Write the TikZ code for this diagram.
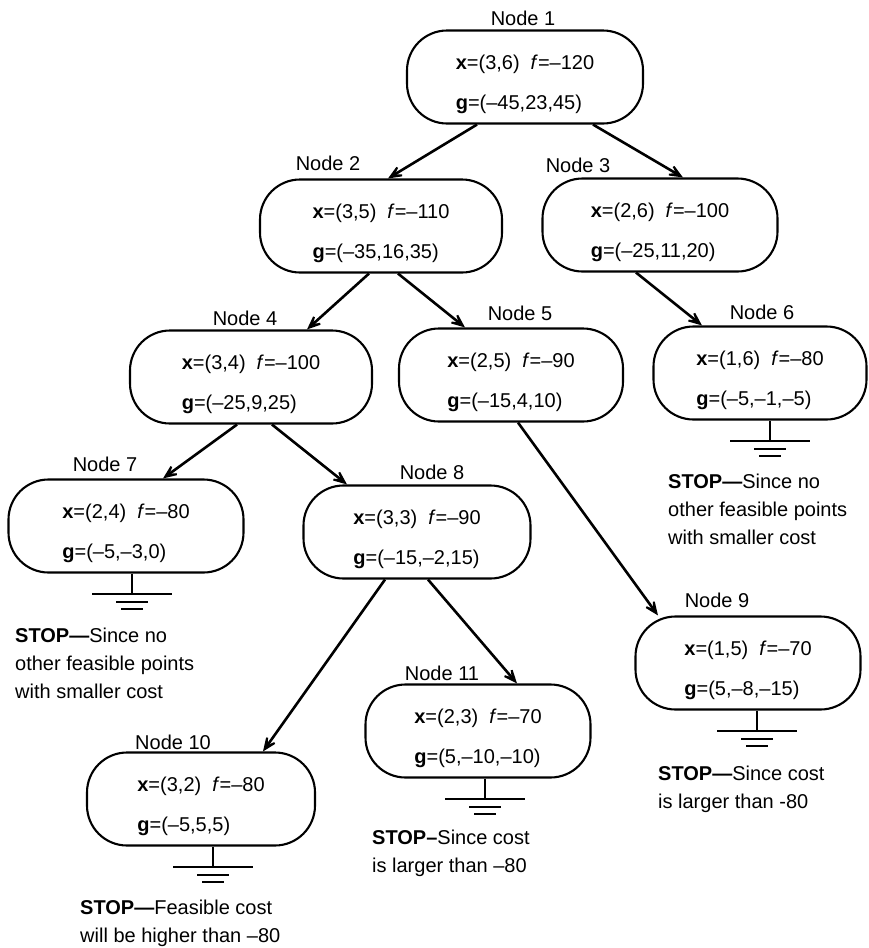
\documentclass[tikz,border=0pt]{standalone}
\usepackage{fontspec}
\setmainfont{Liberation Sans}
\usetikzlibrary{arrows.meta}

% two lines of a search node: point, cost and constraint values
\newcommand{\nodedata}[3]{\rule{0pt}{30pt}\textbf{x}=#1\hspace{0.55em}\textit{f}=#2\\\textbf{g}=#3}

\begin{document}
\begin{tikzpicture}[x=1pt, y=-1pt,
  box/.style={rectangle, rounded corners=40pt, draw, line width=2.1pt,
              minimum height=93pt, align=left, inner sep=0pt,
              font=\fontsize{20}{40}\selectfont},
  tag/.style={font=\fontsize{20}{24}\selectfont},
  stop/.style={anchor=north west, align=left, inner sep=0pt,
               font=\fontsize{20}{28}\selectfont},
  arrow/.style={-{Stealth[length=25pt,width=21pt,inset=17pt]}, line width=2.6pt},
  ground/.pic={
    \draw[line width=2pt] (0,0) -- (0,20) (-40,20) -- (40,20)
      (-16,28) -- (16,28) (-11,35) -- (11,35);
  }
]
\useasboundingbox (0,0) rectangle (868,948);

\node[box, minimum width=236pt] (n1) at (525,77) {\nodedata{(3,6)}{–120}{(–45,23,45)}};
\node[box, minimum width=242pt] (n2) at (381,226) {\nodedata{(3,5)}{–110}{(–35,16,35)}};
\node[box, minimum width=235pt] (n3) at (660,225) {\nodedata{(2,6)}{–100}{(–25,11,20)}};
\node[box, minimum width=242pt] (n4) at (251,377) {\nodedata{(3,4)}{–100}{(–25,9,25)}};
\node[box, minimum width=224pt] (n5) at (511,375) {\nodedata{(2,5)}{–90}{(–15,4,10)}};
\node[box, minimum width=213pt] (n6) at (760,373) {\nodedata{(1,6)}{–80}{(–5,–1,–5)}};
\node[box, minimum width=235pt] (n7) at (126,526) {\nodedata{(2,4)}{–80}{(–5,–3,0)}};
\node[box, minimum width=227pt] (n8) at (417,532) {\nodedata{(3,3)}{–90}{(–15,–2,15)}};
\node[box, minimum width=225pt] (n9) at (748,663) {\nodedata{(1,5)}{–70}{(5,–8,–15)}};
\node[box, minimum width=228pt] (n10) at (201,799) {\nodedata{(3,2)}{–80}{(–5,5,5)}};
\node[box, minimum width=225pt] (n11) at (478,731) {\nodedata{(2,3)}{–70}{(5,–10,–10)}};

\node[tag] (t1) at (523,18) {Node 1};
\node[tag] (t2) at (328,163) {Node 2};
\node[tag] (t3) at (578,165) {Node 3};
\node[tag] (t4) at (245,318) {Node 4};
\node[tag] (t5) at (520,313) {Node 5};
\node[tag] (t6) at (762,312) {Node 6};
\node[tag] (t7) at (105,464) {Node 7};
\node[tag] (t8) at (432,472) {Node 8};
\node[tag] (t9) at (717,600) {Node 9};
\node[tag] (t10) at (173,742) {Node 10};
\node[tag] (t11) at (442,673) {Node 11};

\draw[arrow] ([xshift=-48pt]n1.south) -- ([xshift=7pt]n2.north);
\draw[arrow] ([xshift=68pt]n1.south) -- ([xshift=23pt]n3.north);
\draw[arrow] ([xshift=-12pt]n2.south) -- ([xshift=56pt]n4.north);
\draw[arrow] ([xshift=17pt]n2.south) -- ([xshift=-46pt]n5.north);
\draw[arrow] ([xshift=-24pt]n3.south) -- ([xshift=-58pt]n6.north);
\draw[arrow] ([xshift=-14pt]n4.south) -- ([xshift=37pt]n7.north);
\draw[arrow] ([xshift=21pt]n4.south) -- ([xshift=-70pt]n8.north);
\draw[arrow] ([xshift=7pt]n5.south) -- ([xshift=-90pt]n9.north);
\draw[arrow] ([xshift=-32pt]n8.south) -- ([xshift=62pt]n10.north);
\draw[arrow] ([xshift=11pt]n8.south) -- ([xshift=39pt]n11.north);

\pic at ([xshift=10pt]n6.south) {ground};
\pic at ([xshift=6pt]n7.south) {ground};
\pic at ([xshift=9pt]n9.south) {ground};
\pic at ([xshift=12pt]n10.south) {ground};
\pic at ([xshift=7pt]n11.south) {ground};

\node[stop] (s6) at (668,474) {\textbf{STOP—}Since no\\other feasible points\\with smaller cost};
\node[stop] (s7) at (15,628) {\textbf{STOP—}Since no\\other feasible points\\with smaller cost};
\node[stop] (s9) at (658,766) {\textbf{STOP—}Since cost\\is larger than -80};
\node[stop] (s10) at (80,900) {\textbf{STOP—}Feasible cost\\will be higher than –80};
\node[stop] (s11) at (372,830) {\textbf{STOP–}Since cost\\is larger than –80};
\end{tikzpicture}
\end{document}
